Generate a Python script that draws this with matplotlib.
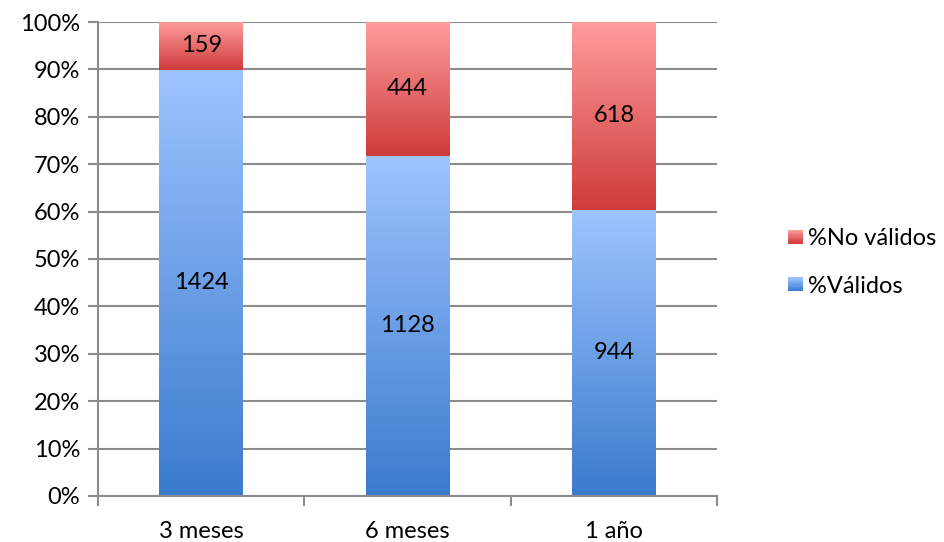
import numpy as np
import matplotlib.pyplot as plt
from matplotlib.colors import LinearSegmentedColormap
from matplotlib.legend_handler import HandlerBase
from matplotlib.patches import Rectangle

plt.rcParams['font.family'] = ['Lato', 'DejaVu Sans']
plt.rcParams['font.size'] = 17

categories = ['3 meses', '6 meses', '1 año']
validos = [1424, 1128, 944]
no_validos = [159, 444, 618]
series_labels = ['%Válidos', '%No válidos']

GRID = '#8c8c8c'
# (top colour, bottom colour) of each gradient
blue_grad = ('#9ec4ff', '#3a7bcd')
red_grad = ('#ff9c9c', '#cf3b3b')


def grad_cmap(top, bottom):
    return LinearSegmentedColormap.from_list('g', [bottom, top])


class GradientHandler(HandlerBase):
    def __init__(self, top, bottom, steps=12):
        super().__init__()
        self.cmap = grad_cmap(top, bottom)
        self.steps = steps

    def create_artists(self, legend, orig_handle, xdescent, ydescent,
                       width, height, fontsize, trans):
        side = min(width, height)
        x0 = -xdescent
        y0 = -ydescent + (height - side) / 2
        h = side / self.steps
        arts = []
        for i in range(self.steps):
            r = Rectangle((x0, y0 + i * h), side, h * 1.05,
                          fc=self.cmap(i / (self.steps - 1)), ec='none',
                          transform=trans)
            arts.append(r)
        return arts


tot = np.array(validos) + np.array(no_validos)
pct_val = np.array(validos) / tot * 100
pct_no = np.array(no_validos) / tot * 100

fig = plt.figure(figsize=(9.44, 5.42), dpi=100)
ax = fig.add_axes([0.1038, 0.0849, 0.6558, 0.8745])

x = np.arange(len(categories))
width = 0.405
bars_v = ax.bar(x, pct_val, width, color='none', zorder=3)
bars_n = ax.bar(x, pct_no, width, bottom=pct_val, color='none', zorder=3)

grad = np.linspace(0, 1, 256).reshape(-1, 1)
for bars, (top, bottom) in [(bars_v, blue_grad), (bars_n, red_grad)]:
    cmap = grad_cmap(top, bottom)
    for p in bars:
        x0, y0 = p.get_x(), p.get_y()
        w, h = p.get_width(), p.get_height()
        im = ax.imshow(grad, cmap=cmap, origin='lower', aspect='auto',
                       extent=(x0, x0 + w, y0, y0 + h), zorder=2.5,
                       interpolation='bilinear')
        im.set_clip_path(p)

for i in range(len(categories)):
    ax.text(x[i], pct_val[i] / 2, str(validos[i]), ha='center',
            va='center', zorder=4)
    ax.text(x[i], pct_val[i] + pct_no[i] / 2, str(no_validos[i]),
            ha='center', va='center', zorder=4)

ax.set_xlim(-0.5, len(categories) - 0.5)
ax.set_ylim(0, 100)
ax.set_yticks(np.arange(0, 101, 10))
ax.set_yticklabels([f'{v}%' for v in range(0, 101, 10)])
ax.yaxis.grid(True, color=GRID, lw=1.5, zorder=1)
ax.set_axisbelow(True)

ax.set_xticks(x)
ax.set_xticklabels(categories)
ax.set_xticks(np.arange(-0.5, len(categories)), minor=True)
ax.tick_params(axis='x', which='major', length=0, pad=18)
ax.tick_params(axis='x', which='minor', length=7, width=1.5, color=GRID)
ax.tick_params(axis='y', length=7, width=1.5, color=GRID, pad=6)

for s in ['top', 'right']:
    ax.spines[s].set_visible(False)
for s in ['left', 'bottom']:
    ax.spines[s].set_color(GRID)
    ax.spines[s].set_linewidth(1.5)

h_n = Rectangle((0, 0), 1, 1)
h_v = Rectangle((0, 0), 1, 1)
ax.legend([h_n, h_v], [series_labels[1], series_labels[0]],
          handler_map={h_n: GradientHandler(*red_grad),
                       h_v: GradientHandler(*blue_grad)},
          loc='center left', bbox_to_anchor=(1.1, 0.493), frameon=False,
          handlelength=0.6, handleheight=0.6, handletextpad=0.25,
          labelspacing=1.13, borderaxespad=0)

fig.savefig('out.png', dpi=100)
